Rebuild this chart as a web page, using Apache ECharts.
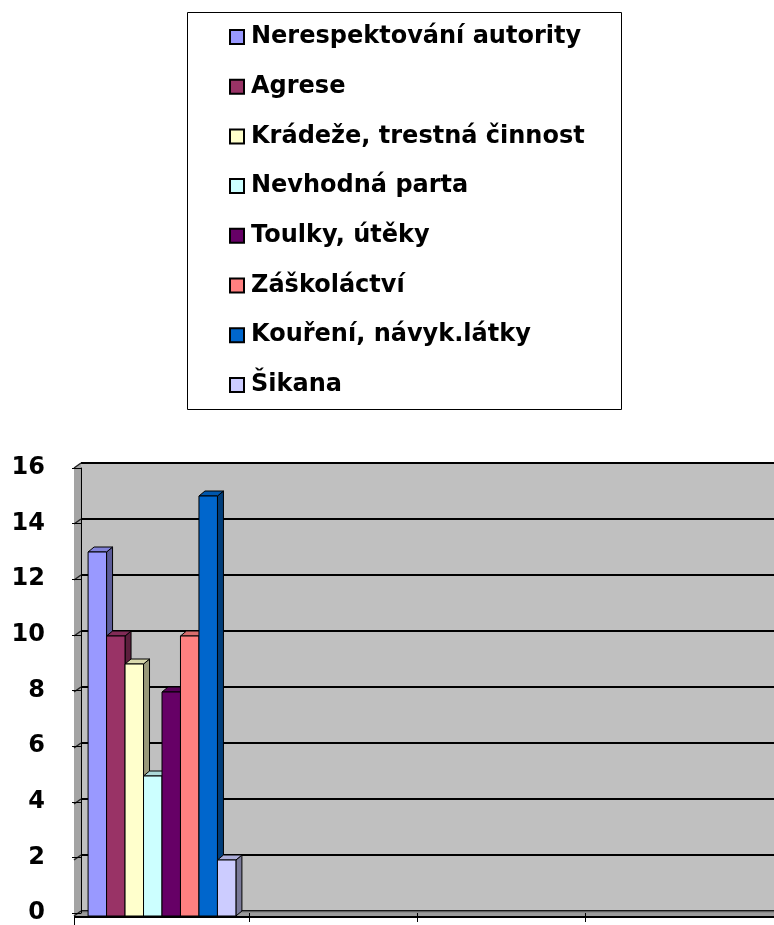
<!DOCTYPE html>
<html><head><meta charset="utf-8">
<script src="https://cdn.jsdelivr.net/npm/echarts@6/dist/echarts.min.js"></script>
<style>html,body{margin:0;padding:0;background:#fff}#c{width:774px;height:925px}</style>
</head><body><div id="c"></div>
<script>
// ---- data ----
const categories = ['1', '2', '3', '4', '5'];
const seriesNames = ['Nerespektování autority', 'Agrese', 'Krádeže, trestná činnost', 'Nevhodná parta', 'Toulky, útěky', 'Záškoláctví', 'Kouření, návyk.látky', 'Šikana'];
const seriesValues = [13, 10, 9, 5, 8, 10, 15, 2];
const seriesColors = ['#9999FF', '#993366', '#FFFFCC', '#CCFFFF', '#660066', '#FF8080', '#0066CC', '#CCCCFF'];
const seriesCategory = '1';
const yMin = 0, yMax = 16, yInterval = 2;
const xVisibleMax = 4.125; // visible part of the category range
const xTickValues = [1, 2, 3];

// ---- style constants ----
const DX = 6, DY = 5, WDX = 7, SHIFT = 3, GROUP = 0.88;
const FONT = 'DejaVu Sans';

function shade(hex, f) {
  const n = parseInt(hex.slice(1), 16);
  const r = Math.round(((n >> 16) & 255) * f), g = Math.round(((n >> 8) & 255) * f), b = Math.round((n & 255) * f);
  return 'rgb(' + r + ',' + g + ',' + b + ')';
}

function barRender(i) {
  return function (params, api) {
    const band = api.size([1, 0])[0];
    const cx = api.value(0), v = api.value(1);
    const base = api.coord([cx, 0]), top = api.coord([cx, v]);
    const groupW = band * GROUP, bw = groupW / seriesNames.length;
    const x0 = base[0] - groupW / 2 + i * bw + SHIFT;
    const yT = top[1], yB = base[1];
    const c = seriesColors[i];
    return {
      type: 'group', children: [
        { type: 'polygon', shape: { points: [[x0 + bw - DX, yT + DY], [x0 + bw, yT], [x0 + bw, yB], [x0 + bw - DX, yB + DY]] },
          style: { fill: shade(c, 0.6), stroke: '#000', lineWidth: 1 } },
        { type: 'polygon', shape: { points: [[x0 - DX, yT + DY], [x0, yT], [x0 + bw, yT], [x0 + bw - DX, yT + DY]] },
          style: { fill: shade(c, 0.85), stroke: '#000', lineWidth: 1 } },
        { type: 'rect', shape: { x: x0 - DX, y: yT + DY, width: bw, height: yB - yT },
          style: { fill: c, stroke: '#000', lineWidth: 1 } }
      ]
    };
  };
}

function wallRender(params, api) {
  const c0 = api.coord([0, yMin]);
  const L = c0[0], R = api.coord([categories.length, yMin])[0];
  const B = c0[1], T = api.coord([0, yMax])[1];
  const children = [
    { type: 'polygon', shape: { points: [[L - WDX, B + DY], [L - WDX, T + DY], [L, T], [L, B]] },
      style: { fill: '#a4a4a4', stroke: null } },
    { type: 'polygon', shape: { points: [[L - WDX, B + DY], [L, B], [R, B], [R - WDX, B + DY]] },
      style: { fill: '#9c9c9c', stroke: null } },
    { type: 'line', shape: { x1: L, y1: B + 0.5, x2: R, y2: B + 0.5 }, style: { stroke: '#606060', lineWidth: 1.5 } },
    { type: 'line', shape: { x1: L - WDX, y1: B + DY + 1, x2: R, y2: B + DY + 1 }, style: { stroke: '#000', lineWidth: 2 } },
    { type: 'line', shape: { x1: L - WDX + 0.5, y1: B + DY, x2: L - WDX + 0.5, y2: B + DY + 10 }, style: { stroke: '#000', lineWidth: 1 } }
  ];
  for (let v = yMin; v <= yMax; v += yInterval) {
    const y = api.coord([0, v])[1];
    children.push({ type: 'line', shape: { x1: L - WDX, y1: y + DY, x2: L, y2: y }, style: { stroke: '#222', lineWidth: 1.5 } });
  }
  return { type: 'group', children: children };
}

const catX = categories.indexOf(seriesCategory) + 0.5;
const series = [{
  type: 'custom', name: '__walls', xAxisIndex: 0, yAxisIndex: 0, z: 1, clip: false,
  renderItem: wallRender, data: [[0, 0]], silent: true
}];
seriesNames.forEach(function (n, i) {
  series.push({
    type: 'custom', name: n, xAxisIndex: 0, yAxisIndex: 0, z: 2 + i, clip: false,
    itemStyle: { color: seriesColors[i] },
    renderItem: barRender(i), data: [[catX, seriesValues[i]]]
  });
});

const chart = echarts.init(document.getElementById('c'), null, { renderer: 'canvas' });
chart.setOption({
  animation: false,
  backgroundColor: '#fff',
  graphic: [{ type: 'rect', shape: { x: 187.5, y: 12.5, width: 434, height: 397 }, style: { fill: null, stroke: '#000', lineWidth: 1 }, z: 10 }],
  legend: {
    orient: 'vertical', left: 229, top: 22, padding: 0, icon: 'rect',
    itemWidth: 14, itemHeight: 14, itemGap: 19.7, selectedMode: false,
    data: seriesNames.map(function (n, i) {
      return { name: n, itemStyle: { color: seriesColors[i], borderColor: '#000', borderWidth: 2 } };
    }),
    textStyle: { fontFamily: FONT, fontWeight: 'bold', fontSize: 24, color: '#000', lineHeight: 30, padding: [0, 0, 0, 2] }
  },
  grid: [
    { left: 81, top: 463, bottom: 14, right: 0, show: true, backgroundColor: '#c0c0c0', borderWidth: 0, containLabel: false },
    { left: 81, top: 468, bottom: 9, right: 0, show: false, containLabel: false }
  ],
  xAxis: [
    { gridIndex: 0, type: 'value', min: 0, max: xVisibleMax, interval: 1, show: false },
    { gridIndex: 1, type: 'value', min: 0, max: xVisibleMax, interval: 1, z: 5,
      axisLine: { show: false },
      axisTick: { show: true, length: 9, customValues: xTickValues, lineStyle: { color: '#000', width: 1 } },
      axisLabel: { show: false }, splitLine: { show: false } }
  ],
  yAxis: [
    { gridIndex: 0, type: 'value', min: yMin, max: yMax, interval: yInterval,
      axisLine: { show: false }, axisTick: { show: false }, axisLabel: { show: false },
      splitLine: { show: true, lineStyle: { color: '#000', width: 2 } } },
    { gridIndex: 1, type: 'value', min: yMin, max: yMax, interval: yInterval, offset: 7, z: 5,
      axisLine: { show: true, lineStyle: { color: '#000', width: 1 } },
      axisTick: { show: true, length: 9, lineStyle: { color: '#000', width: 1 } },
      axisLabel: { show: true, margin: 29, padding: [7, 0, 0, 0], fontFamily: FONT, fontWeight: 'bold', fontSize: 24, color: '#000' },
      splitLine: { show: false } }
  ],
  series: series
});
</script></body></html>
